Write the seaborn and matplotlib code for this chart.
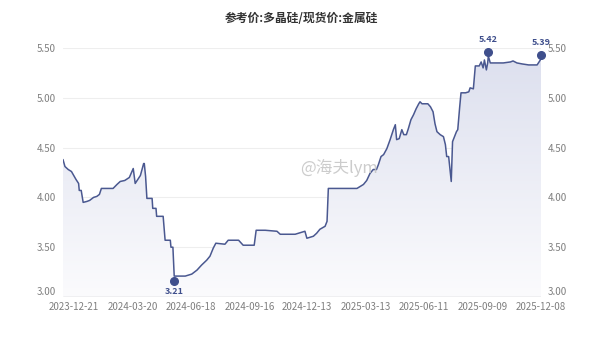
import numpy as np
import pandas as pd
import matplotlib
matplotlib.use("Agg")
import matplotlib.pyplot as plt
import matplotlib.dates as mdates
import matplotlib.transforms as mtransforms
from matplotlib.colors import LinearSegmentedColormap
import seaborn as sns

title = "参考价:多晶硅/现货价:金属硅"
watermark = "@海夫lym"

dates = [
    "2023-12-04", "2023-12-07", "2023-12-12", "2023-12-17", "2023-12-24", "2023-12-28",
    "2023-12-29", "2024-01-01", "2024-01-04", "2024-01-10", "2024-01-14", "2024-01-20",
    "2024-01-25", "2024-01-29", "2024-02-01", "2024-02-19", "2024-02-25", "2024-03-01",
    "2024-03-08", "2024-03-15", "2024-03-21", "2024-03-24", "2024-04-01", "2024-04-06",
    "2024-04-07", "2024-04-09", "2024-04-11", "2024-04-19", "2024-04-20", "2024-04-25",
    "2024-04-26", "2024-05-06", "2024-05-09", "2024-05-17", "2024-05-18", "2024-05-21",
    "2024-05-23", "2024-06-09", "2024-06-19", "2024-06-27", "2024-07-04", "2024-07-12",
    "2024-07-17", "2024-07-22", "2024-07-26", "2024-08-09", "2024-08-14", "2024-08-30",
    "2024-09-06", "2024-09-23", "2024-09-26", "2024-10-10", "2024-10-28", "2024-11-02",
    "2024-11-25", "2024-12-10", "2024-12-13", "2024-12-23", "2024-12-28", "2025-01-02",
    "2025-01-10", "2025-01-13", "2025-01-15", "2025-02-28", "2025-03-05", "2025-03-10",
    "2025-03-15", "2025-03-20", "2025-03-25", "2025-03-30", "2025-04-02", "2025-04-06",
    "2025-04-10", "2025-04-15", "2025-04-20", "2025-04-25", "2025-04-28", "2025-04-30",
    "2025-05-04", "2025-05-08", "2025-05-11", "2025-05-15", "2025-05-18", "2025-05-22",
    "2025-05-26", "2025-05-30", "2025-06-03", "2025-06-05", "2025-06-08", "2025-06-17",
    "2025-06-21", "2025-06-25", "2025-06-28", "2025-07-01", "2025-07-06", "2025-07-11",
    "2025-07-14", "2025-07-16", "2025-07-19", "2025-07-23", "2025-07-25", "2025-07-28",
    "2025-07-31", "2025-08-02", "2025-08-05", "2025-08-07", "2025-08-14", "2025-08-19",
    "2025-08-21", "2025-08-26", "2025-08-29", "2025-09-04", "2025-09-07", "2025-09-10",
    "2025-09-12", "2025-09-15", "2025-09-17", "2025-09-18", "2025-09-21", "2025-10-11",
    "2025-10-22", "2025-10-26", "2025-11-01", "2025-11-09", "2025-11-19", "2025-12-02",
    "2025-12-04", "2025-12-08",
]
values = [
    4.38, 4.31, 4.28, 4.26, 4.18, 4.14,
    4.07, 4.07, 3.95, 3.96, 3.97, 4.00,
    4.01, 4.03, 4.09, 4.09, 4.13, 4.16,
    4.17, 4.20, 4.29, 4.14, 4.22, 4.34,
    4.34, 4.21, 3.99, 3.99, 3.89, 3.89,
    3.81, 3.81, 3.57, 3.57, 3.50, 3.50,
    3.21, 3.21, 3.23, 3.27, 3.32, 3.37,
    3.41, 3.49, 3.54, 3.53, 3.57, 3.57,
    3.52, 3.52, 3.67, 3.67, 3.66, 3.63,
    3.63, 3.66, 3.59, 3.61, 3.64, 3.68,
    3.71, 3.76, 4.09, 4.09, 4.11, 4.13,
    4.17, 4.24, 4.28, 4.28, 4.33, 4.41,
    4.43, 4.49, 4.58, 4.68, 4.73, 4.58,
    4.59, 4.68, 4.63, 4.63, 4.69, 4.78,
    4.83, 4.89, 4.94, 4.96, 4.94, 4.94,
    4.91, 4.86, 4.74, 4.66, 4.63, 4.61,
    4.53, 4.41, 4.41, 4.16, 4.56, 4.61,
    4.66, 4.68, 4.91, 5.05, 5.05, 5.06,
    5.10, 5.09, 5.32, 5.32, 5.36, 5.30,
    5.38, 5.28, 5.35, 5.42, 5.35, 5.35,
    5.36, 5.37, 5.35, 5.34, 5.33, 5.33,
    5.35, 5.39,
]
tick_labels = ["2023-12-21", "2024-03-20", "2024-06-18", "2024-09-16", "2024-12-13",
               "2025-03-13", "2025-06-11", "2025-09-09", "2025-12-08"]
y_ticks = [3.00, 3.50, 4.00, 4.50, 5.00, 5.50]
x_start = "2023-12-04"
x_end = "2025-12-08"

df = pd.DataFrame({"date": pd.to_datetime(dates), "value": values})

sns.set_theme(style="white")
plt.rcParams["font.family"] = ["Noto Sans CJK SC", "DejaVu Sans"]

line_color = "#4a5890"
mark_color = "#3f4f8c"
tick_color = "#7f7f7f"

fig = plt.figure(figsize=(6.02, 3.40), dpi=100)
ax = fig.add_axes([63 / 602, 1 - 297 / 340, (541 - 63) / 602, (297 - 48) / 340])

ylo, yhi = 3.0, 5.5
x0 = mdates.date2num(pd.Timestamp(x_start))
x1 = mdates.date2num(pd.Timestamp(x_end))
ax.set_xlim(x0, x1)
ax.set_ylim(ylo, yhi)

# gradient fill under the line
xs = mdates.date2num(df["date"])
poly = ax.fill_between(xs, df["value"], ylo, color="none", lw=0)
grad = np.linspace(0, 1, 256).reshape(-1, 1)
cmap = LinearSegmentedColormap.from_list("g", ["#fbfbfd", "#dcdfee"])
img = ax.imshow(grad, cmap=cmap, aspect="auto", origin="lower",
                extent=[x0, x1, ylo, yhi], zorder=1)
img.set_clip_path(poly.get_paths()[0], transform=ax.transData)

sns.lineplot(data=df, x="date", y="value", ax=ax, color=line_color, lw=1.1, zorder=3)

# grid
for v in y_ticks[1:]:
    ax.axhline(v, color="#eeeeee", lw=0.8, zorder=0)
ax.axhline(ylo, color="#a9a9a9", lw=0.9, zorder=4)

for s in ax.spines.values():
    s.set_visible(False)

ax.set_xticks(mdates.date2num(pd.to_datetime(tick_labels)))
ax.set_xticklabels(tick_labels)
ax.set_yticks(y_ticks)
ax.set_yticklabels([f"{v:.2f}" for v in y_ticks])
ax.tick_params(axis="both", length=0, labelsize=7, colors=tick_color)
ax.tick_params(axis="x", pad=3.5)
ax.tick_params(axis="y", labelleft=True, labelright=True, pad=5)
ax.set_xlabel("")
ax.set_ylabel("")
# lift the bottom value labels slightly so they sit on the axis line
for lab in ax.get_yticklabels(which="both"):
    pass
for t in ax.yaxis.get_major_ticks()[:1]:
    t.label1.set_va("bottom")
    t.label2.set_va("bottom")

# mark points
imax = int(np.argmax(values))
imin = int(np.argmin(values))
ilast = len(values) - 1
pts = [(imax, 4, "above"), (ilast, 4, "above"), (imin, -5, "below")]
for i, off, pos in pts:
    tr = mtransforms.offset_copy(ax.transData, fig=fig, x=0, y=off * 0.72, units="points")
    ax.plot(xs[i], values[i], "o", ms=5.5, color=mark_color, transform=tr, zorder=5,
            clip_on=False)
    if pos == "above":
        ax.annotate(f"{values[i]:.2f}", (xs[i], values[i]), xytext=(0, 8.5),
                    textcoords="offset points", ha="center", va="bottom",
                    fontsize=6.5, color=mark_color, fontweight="bold")
    else:
        ax.annotate(f"{values[i]:.2f}", (xs[i], values[i]), xytext=(0, -8),
                    textcoords="offset points", ha="center", va="top",
                    fontsize=6.5, color=mark_color, fontweight="bold")

fig.text(0.5, 1 - 18 / 340, title, ha="center", va="center", fontsize=8.5,
         fontweight="bold", color="#333333")
fig.text(300 / 602, 1 - 168 / 340, watermark, ha="left", va="center", fontsize=12,
         color="#c4c4c4", alpha=0.85)

fig.savefig("out.png", dpi=100)
